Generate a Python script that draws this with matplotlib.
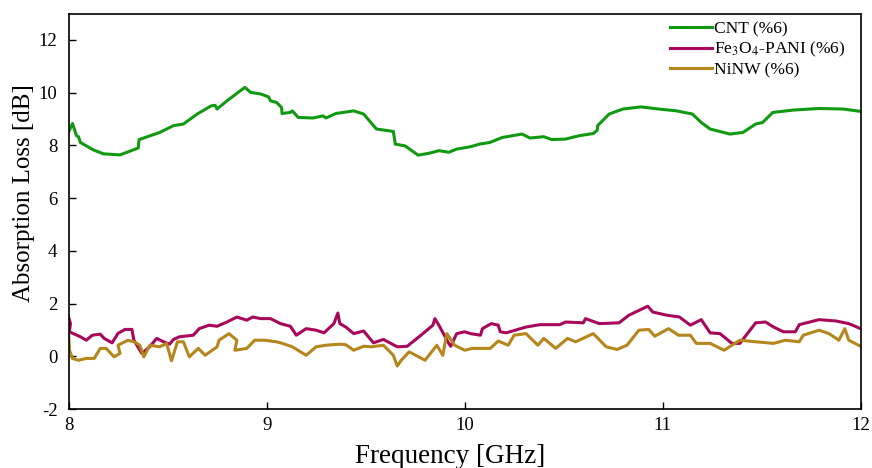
import matplotlib
matplotlib.use('Agg')
import matplotlib.pyplot as plt

# Absorption loss traces for the three fillers (frequency in GHz, loss in dB)
cnt_freq = [8.00, 8.02, 8.04, 8.05, 8.06, 8.125, 8.176, 8.26, 8.352, 8.356, 8.46,
            8.53, 8.58, 8.65, 8.72, 8.74, 8.75, 8.80, 8.89, 8.92, 8.97, 9.01, 9.02,
            9.05, 9.076, 9.078, 9.12, 9.13, 9.16, 9.235, 9.285, 9.30, 9.35, 9.44,
            9.49, 9.555, 9.64, 9.65, 9.70, 9.765, 9.82, 9.87, 9.92, 9.96, 10.03,
            10.076, 10.127, 10.19, 10.29, 10.33, 10.40, 10.44, 10.51, 10.58, 10.65,
            10.67, 10.672, 10.73, 10.80, 10.89, 10.98, 11.07, 11.15, 11.195, 11.24,
            11.34, 11.405, 11.47, 11.505, 11.556, 11.66, 11.79, 11.91, 12.00]
cnt_loss = [8.50, 8.83, 8.37, 8.33, 8.11, 7.83, 7.68, 7.64, 7.90, 8.22, 8.49,
            8.75, 8.81, 9.19, 9.50, 9.52, 9.38, 9.69, 10.20, 10.01, 9.95, 9.84, 9.69,
            9.63, 9.44, 9.21, 9.25, 9.31, 9.06, 9.04, 9.12, 9.04, 9.21, 9.31,
            9.19, 8.62, 8.53, 8.05, 7.98, 7.63, 7.70, 7.80, 7.74, 7.86, 7.95,
            8.05, 8.11, 8.30, 8.43, 8.28, 8.33, 8.22, 8.24, 8.37, 8.45,
            8.58, 8.75, 9.19, 9.38, 9.46, 9.38, 9.31, 9.19, 8.87, 8.62,
            8.43, 8.49, 8.81, 8.87, 9.25, 9.34, 9.40, 9.38, 9.29]

pani_freq = [8.00, 8.01, 8.004, 8.06, 8.09, 8.12, 8.16, 8.18, 8.22, 8.25, 8.285,
             8.32, 8.33, 8.37, 8.41, 8.445, 8.48, 8.51, 8.53, 8.56, 8.63, 8.66,
             8.71, 8.75, 8.80, 8.85, 8.90, 8.93, 8.97, 9.02, 9.07, 9.12, 9.15,
             9.20, 9.25, 9.29, 9.34, 9.36, 9.37, 9.40, 9.44, 9.49, 9.54, 9.59,
             9.66, 9.71, 9.77, 9.84, 9.85, 9.87, 9.92, 9.93, 9.96, 10.00, 10.03,
             10.08, 10.09, 10.135, 10.17, 10.18, 10.21, 10.31, 10.38, 10.48, 10.51,
             10.60, 10.61, 10.68, 10.78, 10.83, 10.925, 10.95, 11.02, 11.085, 11.14,
             11.195, 11.24, 11.29, 11.35, 11.39, 11.47, 11.52, 11.56, 11.61, 11.67,
             11.69, 11.79, 11.875, 11.94, 12.00]
pani_loss = [1.49, 1.24, 0.93, 0.74, 0.61, 0.80, 0.84, 0.68, 0.51, 0.87, 1.02,
             1.02, 0.61, 0.11, 0.36, 0.68, 0.55, 0.46, 0.64, 0.74, 0.80, 1.05,
             1.18, 1.14, 1.30, 1.49, 1.37, 1.49, 1.43, 1.43, 1.24, 1.14, 0.80,
             1.05, 0.99, 0.89, 1.24, 1.64, 1.24, 1.11, 0.86, 0.96, 0.51, 0.64,
             0.36, 0.38, 0.74, 1.18, 1.43, 1.18, 0.49, 0.38, 0.86, 0.93, 0.86,
             0.80, 1.05, 1.24, 1.18, 0.93, 0.89, 1.11, 1.20, 1.20, 1.30,
             1.27, 1.43, 1.24, 1.27, 1.56, 1.90, 1.68, 1.56, 1.49, 1.18,
             1.39, 0.89, 0.86, 0.49, 0.49, 1.27, 1.30, 1.11, 0.93, 0.93,
             1.20, 1.39, 1.34, 1.24, 1.05]

ninw_freq = [8.00, 8.005, 8.02, 8.05, 8.09, 8.13, 8.16, 8.19, 8.23, 8.26, 8.25,
             8.30, 8.33, 8.36, 8.38, 8.41, 8.46, 8.495, 8.52, 8.55, 8.58, 8.61,
             8.655, 8.69, 8.75, 8.76, 8.81, 8.85, 8.84, 8.90, 8.94, 8.99, 9.05,
             9.08, 9.13, 9.20, 9.25, 9.30, 9.37, 9.40, 9.44, 9.49, 9.53, 9.59,
             9.64, 9.66, 9.68, 9.72, 9.80, 9.86, 9.89, 9.91, 9.95, 10.00, 10.04,
             10.13, 10.17, 10.22, 10.25, 10.31, 10.37, 10.40, 10.46, 10.52, 10.56,
             10.65, 10.715, 10.77, 10.82, 10.88, 10.93, 10.96, 11.03, 11.08, 11.14,
             11.17, 11.24, 11.31, 11.39, 11.47, 11.56, 11.62, 11.69, 11.71, 11.79,
             11.84, 11.89, 11.92, 11.94, 12.00]
ninw_loss = [0.93, 0.23, -0.08, -0.15, -0.08, -0.08, 0.30, 0.30, -0.02, 0.11, 0.42,
             0.61, 0.55, 0.42, -0.02, 0.42, 0.36, 0.49, -0.17, 0.55, 0.55, -0.02,
             0.30, 0.04, 0.36, 0.61, 0.86, 0.61, 0.23, 0.30, 0.61, 0.61, 0.55,
             0.49, 0.36, 0.04, 0.36, 0.42, 0.46, 0.44, 0.23, 0.38, 0.36, 0.42,
             0.04, -0.37, -0.15, 0.17, -0.15, 0.42, 0.04, 0.86, 0.42, 0.23, 0.30,
             0.30, 0.58, 0.42, 0.80, 0.86, 0.42, 0.68, 0.30, 0.68, 0.55,
             0.86, 0.36, 0.26, 0.42, 0.99, 1.02, 0.76, 1.05, 0.80, 0.80,
             0.49, 0.49, 0.23, 0.61, 0.55, 0.49, 0.61, 0.55, 0.80, 0.99,
             0.86, 0.61, 1.05, 0.61, 0.38]

plt.rcParams['font.family'] = ['Liberation Serif', 'DejaVu Serif']
plt.rcParams['mathtext.fontset'] = 'stix'
plt.rcParams['axes.unicode_minus'] = False

fig = plt.figure(figsize=(8.72, 4.68), dpi=100)
ax = fig.add_axes([0.0786, 0.126, 0.9084, 0.845])

ax.plot(cnt_freq, cnt_loss, color='#119a11', lw=2.2, label='CNT (%6)')
ax.plot(pani_freq, pani_loss, color='#a8075c', lw=2.2,
        label='Fe$_3$O$_4$-PANI (%6)')
ax.plot(ninw_freq, ninw_loss, color='#b4861c', lw=2.2, label='NiNW (%6)')

ax.set_xlim(8, 12)
ax.set_ylim(-2, 13)
ax.set_xticks([8, 9, 10, 11, 12])
ax.set_yticks([-2, 0, 2, 4, 6, 8, 10, 12])
ax.tick_params(direction='in', length=5, width=1, labelsize=13.5)
ax.tick_params(axis='x', pad=6)
ax.tick_params(axis='y', pad=8)
for s in ax.spines.values():
    s.set_linewidth(1.2)

# axis titles sit a little off-centre
ax.set_xlabel('Frequency [GHz]', fontsize=19.5, labelpad=7)
ax.xaxis.label.set_x(0.482)
ax.set_ylabel('Absorption Loss [dB]', fontsize=18, labelpad=3)
ax.yaxis.label.set_y(0.545)

ax.legend(loc='upper right', frameon=False, fontsize=12.6, handlelength=2.4,
          handletextpad=0.12, labelspacing=0.14, borderaxespad=0.0,
          bbox_to_anchor=(0.99, 0.998))

fig.savefig('out.png', dpi=100)
plt.close(fig)
